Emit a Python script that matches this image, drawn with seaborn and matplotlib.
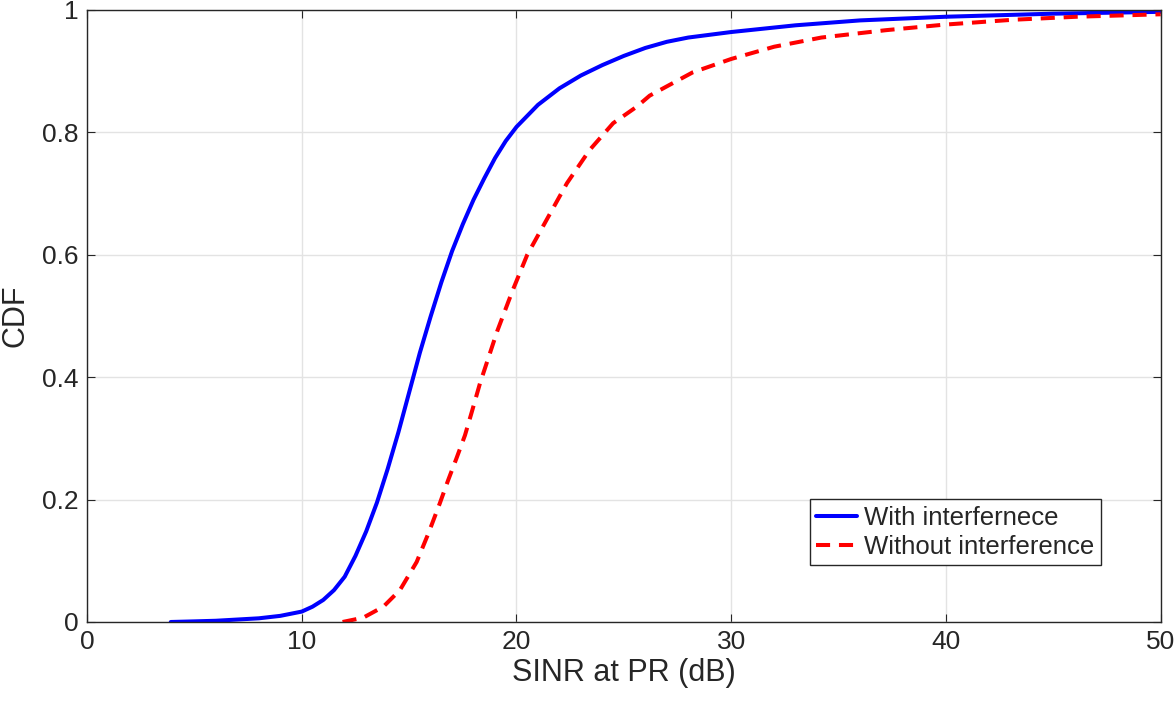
import matplotlib
matplotlib.use("Agg")
import matplotlib.pyplot as plt
import pandas as pd
import seaborn as sns

sns.set_style("ticks")
plt.rcParams['font.family'] = ['Liberation Sans', 'DejaVu Sans']

# values
sinr_with = [3.9, 5, 6, 7, 8, 9, 10, 10.5, 11, 11.5, 12, 12.5, 13, 13.5, 14, 14.5,
             15, 15.5, 16, 16.5, 17, 17.5, 18, 18.5, 19, 19.5, 20, 21, 22, 23, 24,
             25, 26, 27, 28, 30, 33, 36, 40, 45, 50]
cdf_with = [0.0, 0.001, 0.002, 0.004, 0.006, 0.010, 0.017, 0.025, 0.036, 0.052,
            0.074, 0.108, 0.148, 0.195, 0.250, 0.310, 0.375, 0.440, 0.499, 0.555,
            0.606, 0.650, 0.690, 0.725, 0.758, 0.786, 0.809, 0.845, 0.872, 0.893,
            0.910, 0.925, 0.938, 0.948, 0.955, 0.964, 0.975, 0.983, 0.989, 0.994,
            0.997]

sinr_without = [11.9, 12.86, 13.8, 14.57, 15.35, 15.9, 16.43, 16.82, 17.2, 17.6,
                17.9, 18.3, 19.1, 19.8, 20.5, 21.4, 22.35, 23.4, 24.5, 25.6, 26.2,
                28.2, 30, 32, 34.2, 37.2, 39.9, 43.1, 46.1, 50]
cdf_without = [0.0, 0.007, 0.025, 0.052, 0.098, 0.145, 0.194, 0.232, 0.267, 0.305,
               0.341, 0.390, 0.475, 0.540, 0.600, 0.657, 0.717, 0.771, 0.815, 0.842,
               0.860, 0.898, 0.920, 0.940, 0.955, 0.967, 0.976, 0.984, 0.989, 0.993]

labels = ["With interfernece", "Without interference"]

df = pd.concat([
    pd.DataFrame(dict(sinr=sinr_with, cdf=cdf_with, case=labels[0])),
    pd.DataFrame(dict(sinr=sinr_without, cdf=cdf_without, case=labels[1])),
])

fig = plt.figure(figsize=(11.76, 7.04), dpi=100)
ax = fig.add_axes([0.074, 0.1165, 0.913, 0.8693])

sns.lineplot(data=df, x="sinr", y="cdf", hue="case", style="case",
             palette=["#0000ff", "#ff0000"], dashes=[(None, None), (3.5, 2.2)],
             linewidth=2.9, sort=False, estimator=None, ax=ax)

ax.set_xlim(0, 50)
ax.set_ylim(0, 1)
ax.set_xticks([0, 10, 20, 30, 40, 50])
ax.set_yticks([0, 0.2, 0.4, 0.6, 0.8, 1])
ax.set_yticklabels(["0", "0.2", "0.4", "0.6", "0.8", "1"])
ax.grid(True, color="#e3e3e3", linewidth=1)
ax.set_axisbelow(True)
ax.tick_params(direction="in", top=True, right=True, labelsize=19, length=6,
               color="#262626", labelcolor="#262626", pad=6)
for s in ax.spines.values():
    s.set_color("#262626")
    s.set_linewidth(1)
ax.set_xlabel("SINR at PR (dB)", fontsize=22, color="#262626", labelpad=3)
ax.set_ylabel("CDF", fontsize=22, color="#262626", labelpad=8)

leg = ax.legend(loc="lower right", bbox_to_anchor=(0.944, 0.093), fontsize=18.5,
                fancybox=False, edgecolor="#262626", framealpha=1,
                borderaxespad=0, handlelength=1.6, handletextpad=0.25,
                borderpad=0.25, labelspacing=0.2)
leg.get_frame().set_linewidth(1)

plt.savefig("out.png", dpi=100)
